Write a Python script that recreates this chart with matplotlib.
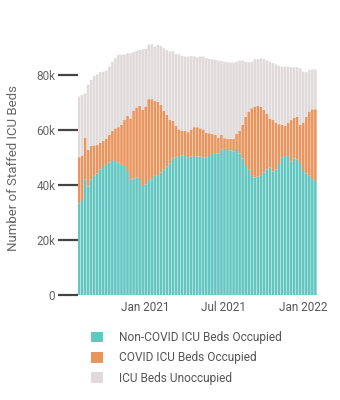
import numpy as np
import pandas as pd
import matplotlib
matplotlib.use("Agg")
import matplotlib.pyplot as plt
from matplotlib.patches import Patch

# weekly values, thousands of beds (stack tops)
non_covid = [33.3, 34.5, 42.1, 39.4, 42.1, 43.3, 44.2, 45.7, 46.9, 47.3,
             48.1, 49.1, 48.7, 48.1, 47.3, 46.9, 45.1, 42.1, 42.4, 42.8,
             41.8, 39.6, 40.2, 41.8, 42.1, 43.3, 43.6, 44.5, 45.5, 46.7,
             47.9, 49.7, 50.1, 50.5, 50.7, 50.5, 50.1, 50.3, 50.5, 50.3,
             50.3, 50.1, 50.1, 50.9, 51.3, 51.3, 51.5, 53.0, 52.7, 52.7,
             52.5, 52.1, 52.7, 51.5, 49.7, 47.3, 45.5, 43.6, 42.7, 43.0,
             43.6, 44.5, 45.7, 46.3, 44.8, 45.7, 47.6, 50.1, 50.5, 50.5,
             48.5, 49.7, 49.3, 47.6, 45.1, 44.2, 43.3, 42.1, 41.5]
occupied_top = [50.1, 50.7, 57.2, 52.7, 54.2, 54.4, 54.5, 55.4, 56.0, 56.7,
                58.2, 59.7, 60.6, 61.0, 61.8, 63.6, 65.1, 64.2, 66.9, 68.2,
                68.7, 67.3, 68.5, 71.2, 71.2, 70.5, 70.3, 69.1, 67.0, 65.5,
                63.6, 63.3, 61.5, 60.2, 59.7, 59.6, 59.2, 60.2, 61.0, 61.0,
                60.6, 60.2, 59.0, 58.8, 58.5, 58.2, 57.2, 58.2, 57.0, 56.7,
                56.7, 56.7, 58.5, 59.7, 61.8, 64.8, 66.7, 67.9, 68.5, 68.7,
                68.5, 67.3, 65.8, 64.2, 63.6, 62.7, 62.1, 61.8, 61.5, 62.7,
                63.6, 64.5, 64.8, 61.8, 62.7, 64.8, 66.7, 67.5, 67.5]
total_beds = [72.1, 72.7, 73.3, 76.4, 78.2, 79.6, 80.2, 81.0, 81.2, 81.6,
              83.0, 84.8, 86.1, 87.3, 87.3, 87.5, 87.9, 87.9, 88.3, 88.7,
              89.1, 89.3, 89.5, 90.9, 91.2, 90.3, 90.9, 90.5, 89.7, 89.1,
              88.5, 88.7, 87.6, 87.5, 86.9, 86.7, 86.7, 86.9, 86.7, 86.4,
              86.7, 86.7, 86.1, 85.8, 85.7, 85.5, 85.2, 85.1, 84.8, 84.6,
              84.5, 84.5, 84.8, 85.2, 85.2, 84.8, 84.6, 84.8, 85.7, 85.7,
              86.0, 85.8, 85.3, 84.8, 84.3, 83.8, 83.3, 83.0, 83.0, 83.0,
              82.8, 82.8, 82.8, 82.4, 81.2, 81.0, 81.8, 82.0, 82.0]

weeks = pd.date_range("2020-08-02", periods=len(non_covid), freq="7D")
labels = ["Non-COVID ICU Beds Occupied", "COVID ICU Beds Occupied", "ICU Beds Unoccupied"]
xtick_dates = pd.to_datetime(["2021-01-01", "2021-07-01", "2022-01-01"])
xtick_labels = ["Jan 2021", "Jul 2021", "Jan 2022"]
yticks = [0, 20000, 40000, 60000, 80000]
ytick_labels = ["0", "20k", "40k", "60k", "80k"]

teal = "#62c6c1"
orange = "#e9955f"
grey = "#e0dada"

nc = np.array(non_covid) * 1000
cov = np.array(occupied_top) * 1000 - nc
unocc = np.array(total_beds) * 1000 - nc - cov

plt.rcParams['font.family'] = ['Roboto', 'DejaVu Sans']

fig = plt.figure(figsize=(3.4, 4.0), dpi=100)
ax = fig.add_axes([0.228, 0.2625, 0.704, 0.6375])

w = pd.Timedelta(days=6)
for vals, base, col in [(nc, 0, teal), (cov, nc, orange), (unocc, nc + cov, grey)]:
    bars = ax.bar(weeks, vals, width=w, bottom=base, color=col, linewidth=0)
    for b in bars:
        b.set_snap(False)

ax.set_xlim(weeks[0] - pd.Timedelta(days=3.5), weeks[-1] + pd.Timedelta(days=3.5))
ax.set_ylim(0, 92700)

ax.set_xticks(xtick_dates)
ax.set_xticklabels(xtick_labels)
ax.set_yticks(yticks)
ax.set_yticklabels(ytick_labels)
ax.tick_params(axis='x', length=0, pad=4, labelsize=8.5, labelcolor='#555555')
ax.tick_params(axis='y', length=14.5, width=1.6, color='#444444', pad=1.5,
               labelsize=8.5, labelcolor='#666666')
for s in ax.spines.values():
    s.set_visible(False)

ax.set_ylabel("Number of Staffed ICU Beds", fontsize=9.5, color='#666666', labelpad=12)

handles = [Patch(facecolor=c, edgecolor='none') for c in (teal, orange, grey)]
leg = fig.legend(handles, labels, loc='upper left', bbox_to_anchor=(0.268, 0.172),
                 frameon=False, fontsize=8.6, handlelength=1.0, handleheight=1.0,
                 handletextpad=1.3, labelspacing=0.6, borderpad=0, borderaxespad=0)
for t in leg.get_texts():
    t.set_color('#555555')

fig.savefig("out.png", dpi=100)
